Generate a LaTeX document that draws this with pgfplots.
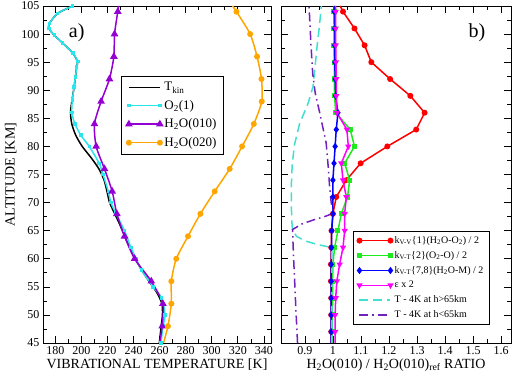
\documentclass[border=0pt]{standalone}
\usepackage{fontspec}
\setmainfont{Liberation Serif}
\usepackage{pgfplots}
\usepackage{pgfplotstable}
\pgfplotsset{compat=1.18}

\definecolor{gviolet}{RGB}{148,0,211}
\definecolor{gcyan}{RGB}{40,230,235}
\definecolor{gorange}{RGB}{255,165,0}
\definecolor{gred}{RGB}{255,0,0}
\definecolor{ggreen}{RGB}{30,235,30}
\definecolor{gblue}{RGB}{0,0,255}
\definecolor{gmagenta}{RGB}{255,0,255}
\definecolor{gturq}{RGB}{64,224,208}
\definecolor{gindigo}{RGB}{114,33,188}

% Panel a: vibrational temperatures (altitude in km, temperature in K)
\pgfplotstableread{
alt T
45 259.8
48 261.2
50 262.2
52 261.8
54 257.8
56 251.8
58 246.2
60 241.3
62 237.0
64 233.2
66 229.6
68 225.6
70 221.6
72 219.6
74 217.4
76 213.4
78 207.4
80 200.6
82 195.6
84 192.6
86 191.6
88.3 192.8
90.6 194.4
92.4 195.4
94.2 196.4
95.1 197.0
96.6 193.4
98.4 185.6
99.8 179.2
101 175.0
101.9 175.4
103.7 181.8
105 193.3
}\tkin

\pgfplotstableread{
alt T
45 261.0
48 262.6
50 264.2
53 261.6
55 255.0
58 246.0
60 242.0
62 238.0
65 233.0
68 226.6
70 222.6
72 220.6
75 216.6
77 213.6
80 206.0
82 199.5
84 195.0
86 192.6
88.3 193.0
90.6 194.4
92.4 195.4
94.2 196.4
95.1 197.2
96.6 193.4
98.4 185.6
99.8 179.2
101 175.0
101.9 175.4
103.7 181.8
105 193.3
}\otwo

\pgfplotstableread{
alt T
45 260.0
48 262.0
52 262.5
56 253.6
60 240.8
64 233.1
68 227.2
72 223.6
76 217.7
80 211.3
84 210.0
88 215.1
92 221.5
96 224.9
100 225.4
104 227.9
105 228.5
}\hwoone

\pgfplotstableread{
alt T
45 263.0
48 266.4
52 269.0
56 269.0
60 272.8
64 281.8
68 291.3
72 302.3
76 313.8
80 323.3
84 332.3
88 338.4
92 338.2
96 334.8
100 329.5
104 319.0
105 316.0
}\hwotwo

% Panel b: H2O(010) ratio to the reference run
\pgfplotstableread{
alt kvv kvt kvtm eps
45 0.994 0.998 0.994 1.008
47 0.994 0.998 0.994 1.008
50 0.994 0.998 0.994 1.008
53 0.994 0.999 0.994 1.010
56 0.993 0.999 0.994 1.014
59 0.993 1.000 0.994 1.024
62 0.994 1.006 0.995 1.036
65 0.995 1.018 0.996 1.042
68 1.000 1.030 1.000 1.042
71 1.012 1.052 1.000 1.048
74 1.048 1.060 1.000 1.036
77 1.099 1.042 1.004 1.030
80 1.194 1.077 1.008 1.055
83 1.297 1.062 1.012 1.050
86 1.327 1.010 1.018 1.014
89 1.276 1.006 1.010 1.012
92 1.204 1.005 1.008 1.012
95 1.137 1.005 1.007 1.011
98 1.113 1.004 1.006 1.010
101 1.077 1.004 1.006 1.010
104 1.036 1.004 1.005 1.010
105 1.026 1.004 1.005 1.010
}\ratio

\pgfplotstableread{
alt r
45 0.996
61.8 0.996
62.1 0.985
62.6 0.940
63.2 0.900
64.0 0.870
65.2 0.856
67.0 0.853
69.6 0.852
73.2 0.852
76.8 0.855
80.3 0.863
84.0 0.881
87.6 0.911
90.6 0.929
92.0 0.932
95.0 0.938
98.0 0.944
101.0 0.951
105.0 0.959
}\thigh

\pgfplotstableread{
alt r
45 0.874
50 0.869
55.7 0.864
60 0.860
65.2 0.856
66.2 0.890
66.9 0.930
67.5 0.970
68.1 1.002
70 0.994
73 0.988
76 0.984
80.6 0.976
86 0.953
89.5 0.937
93 0.928
98 0.922
105 0.915
}\tlow

\pgfplotsset{
  panel/.style={
    scale only axis, height=337pt,
    ymin=45, ymax=105, ytick={45,50,...,105}, minor y tick num=1,
    minor x tick num=1,
    tick align=inside, major tick length=7pt, minor tick length=4pt,
    tick style={black, line width=0.6pt},
    axis line style={line width=0.8pt},
    /pgf/number format/assume math mode=true,
    ticklabel style={font=\fontsize{12}{12}\selectfont},
    label style={font=\fontsize{14}{14}\selectfont},
    legend cell align=left,
    legend image code/.code={\draw[line width=1.5pt, mark indices={1,2}] plot coordinates {(0pt,0pt) (31pt,0pt)};},
  },
  every axis plot/.append style={line width=1.5pt},
}

\begin{document}
\begin{tikzpicture}
\useasboundingbox (0,0) rectangle (512pt,375pt);

\begin{axis}[panel, at={(43pt,32pt)}, anchor=south west, width=228pt,
  xmin=170.5, xmax=345.5, xtick={180,200,...,340},
  xlabel={VIBRATIONAL TEMPERATURE [K]}, ylabel={ALTITUDE [KM]},
  xlabel style={yshift=3pt}, ylabel style={yshift=-2pt},
  legend style={at={(0.342,0.792)}, anchor=north west, draw=black, line width=0.6pt,
    font=\fontsize{13}{13}\selectfont, row sep=4pt, inner xsep=5pt, inner ysep=4pt}]
\addplot[black, smooth, tension=0.4] table[x=T, y=alt] {\tkin};
\addlegendentry{T\textsubscript{kin}}
\addplot[gcyan, smooth, tension=0.4, mark=square*, mark size=1pt, mark options={solid, fill=gcyan}] table[x=T, y=alt] {\otwo};
\addlegendentry{O\textsubscript{2}(1)}
\addplot[gviolet, smooth, tension=0.4, mark=triangle*, mark size=3pt, mark options={solid, fill=gviolet}, mark indices={2,...,16}] table[x=T, y=alt] {\hwoone};
\addlegendentry{H\textsubscript{2}O(010)}
\addplot[gorange, smooth, tension=0.4, mark=*, mark size=2.2pt, mark options={solid, fill=gorange}, mark indices={2,...,16}] table[x=T, y=alt] {\hwotwo};
\addlegendentry{H\textsubscript{2}O(020)}
\node[font=\fontsize{20}{20}\selectfont] at (rel axis cs:0.148,0.92) {a)};
\end{axis}

\begin{axis}[panel, at={(281pt,32pt)}, anchor=south west, width=230pt,
  xmin=0.815, xmax=1.635, xtick={0.9,1.0,1.1,1.2,1.3,1.4,1.5,1.6},
  yticklabels={},
  xlabel={H\textsubscript{2}O(010) / H\textsubscript{2}O(010)\textsubscript{ref} RATIO},
  xlabel style={yshift=3pt},
  legend style={at={(0.313,0.332)}, anchor=north west, draw=black, line width=0.6pt,
    font=\fontsize{10}{10}\selectfont, row sep=2.5pt, inner xsep=4pt, inner ysep=3pt}]
\addplot[gred, mark=*, mark size=2.2pt, mark options={solid, fill=gred}, mark indices={2,...,21}] table[x=kvv, y=alt] {\ratio};
\addlegendentry{k\textsubscript{V-V}\{1\}(H\textsubscript{2}O-O\textsubscript{2}) / 2}
\addplot[ggreen, mark=square*, mark size=1.8pt, mark options={solid, fill=ggreen}, mark indices={2,...,21}] table[x=kvt, y=alt] {\ratio};
\addlegendentry{k\textsubscript{V-T}\{2\}(O\textsubscript{2}-O) / 2}
\addplot[gblue, mark=diamond*, mark size=2.4pt, mark options={solid, fill=gblue}, mark indices={2,...,21}] table[x=kvtm, y=alt] {\ratio};
\addlegendentry{k\textsubscript{V-T}\{7,8\}(H\textsubscript{2}O-M) / 2}
\addplot[gmagenta, mark=triangle*, mark size=2.2pt, mark options={solid, fill=gmagenta, rotate=180}, mark indices={2,...,21}] table[x=eps, y=alt] {\ratio};
\addlegendentry{ε x 2}
\addplot[gturq, dash pattern=on 9pt off 5pt] table[x=r, y=alt] {\thigh};
\addlegendentry{T - 4K at h>65km}
\addplot[gindigo, dash pattern=on 9pt off 4pt on 1.5pt off 4pt] table[x=r, y=alt] {\tlow};
\addlegendentry{T - 4K at h<65km}
\node[font=\fontsize{20}{20}\selectfont] at (rel axis cs:0.852,0.92) {b)};
\end{axis}
\end{tikzpicture}
\end{document}
